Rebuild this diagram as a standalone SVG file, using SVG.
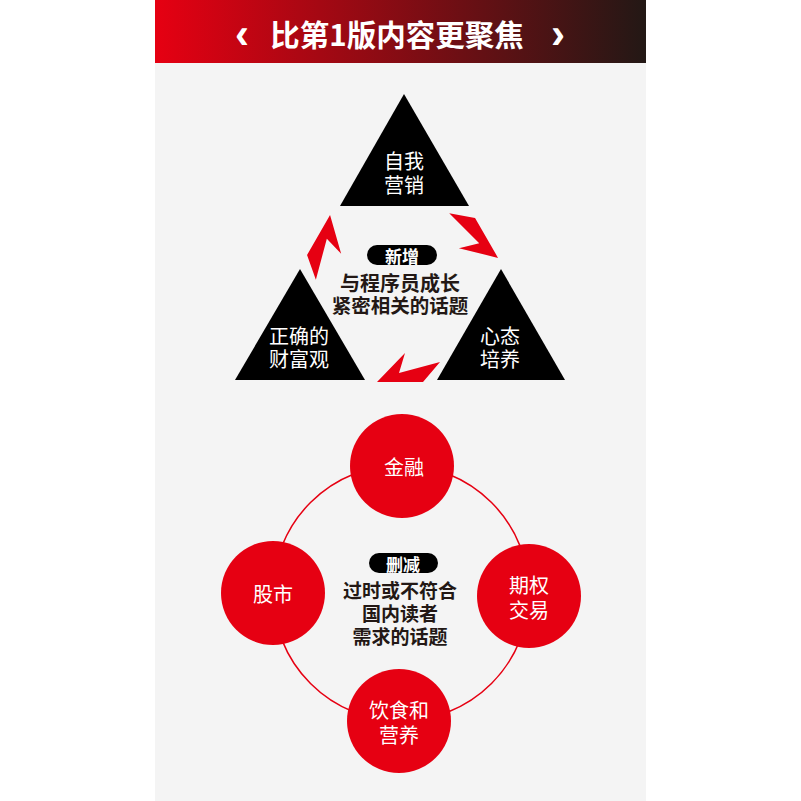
<svg xmlns="http://www.w3.org/2000/svg" width="801" height="801" viewBox="0 0 801 801">
<defs>
<linearGradient id="hdr" x1="155" y1="0" x2="646" y2="0" gradientUnits="userSpaceOnUse">
<stop offset="0" stop-color="#e60012"/>
<stop offset="1" stop-color="#231815"/>
</linearGradient>
<path id="bolt" d="M377,382 L405,353 L399,373 L440,362 L423,382 Z"/>
</defs>
<style>
.cjk{font-family:"Noto Sans CJK SC","Noto Sans",sans-serif;text-anchor:middle;dominant-baseline:central}
.w{fill:#ffffff}
.k{fill:#231815}
.b{font-weight:bold}
.tri{fill:#000000}
.red{fill:#e60012}
</style>
<rect x="0" y="0" width="801" height="801" fill="#ffffff"/>
<rect x="155" y="63" width="491" height="738" fill="#f4f4f4"/>
<g id="header">
<rect x="155" y="0" width="491" height="63" fill="url(#hdr)"/>
<text x="242" y="33" class="cjk w b" font-size="42" style="font-family:'Liberation Sans',sans-serif">‹</text>
<text x="397" y="33" class="cjk w b" font-size="29.5">比第1版内容更聚焦</text>
<text x="558" y="33" class="cjk w b" font-size="42" style="font-family:'Liberation Sans',sans-serif">›</text>
</g>
<g id="connectors">
<use href="#bolt" class="red"/>
<use href="#bolt" class="red" transform="rotate(120 401.7 285)"/>
<use href="#bolt" class="red" transform="rotate(240 401.7 285)"/>
<circle cx="401" cy="593" r="128" fill="none" stroke="#e60012" stroke-width="1.5"/>
</g>
<g id="tri-top">
<polygon class="tri" points="404,94 340,206 469,206"/>
<text class="cjk w" font-size="20"><tspan x="404" y="160">自我</tspan><tspan x="404" y="184">营销</tspan></text>
</g>
<g id="tri-left">
<polygon class="tri" points="300,269 235,380 365,380"/>
<text class="cjk w" font-size="20"><tspan x="299" y="335">正确的</tspan><tspan x="299" y="358">财富观</tspan></text>
</g>
<g id="tri-right">
<polygon class="tri" points="501,269 437,380 565,380"/>
<text class="cjk w" font-size="20"><tspan x="500" y="335">心态</tspan><tspan x="500" y="358">培养</tspan></text>
</g>
<g id="center-top">
<rect x="367" y="245" width="70" height="20" rx="10" fill="#000000"/>
<text x="402" y="255" class="cjk w b" font-size="17">新增</text>
<text class="cjk k b" font-size="20"><tspan x="400" y="282">与程序员成长</tspan><tspan x="400" y="304" font-size="19.5">紧密相关的话题</tspan></text>
</g>
<g id="c-jinrong">
<circle cx="402" cy="466" r="52" class="red"/>
<text x="404" y="466" class="cjk w" font-size="20">金融</text>
</g>
<g id="c-gushi">
<circle cx="273" cy="593" r="52" class="red"/>
<text x="273" y="593" class="cjk w" font-size="20">股市</text>
</g>
<g id="c-qiquan">
<circle cx="529" cy="596" r="52" class="red"/>
<text class="cjk w" font-size="20"><tspan x="529" y="584">期权</tspan><tspan x="529" y="609">交易</tspan></text>
</g>
<g id="c-yinshi">
<circle cx="399" cy="721" r="52" class="red"/>
<text class="cjk w" font-size="20"><tspan x="399" y="709">饮食和</tspan><tspan x="399" y="734">营养</tspan></text>
</g>
<g id="center-bottom">
<rect x="369" y="553" width="69" height="20" rx="10" fill="#000000"/>
<text x="403" y="563" class="cjk w b" font-size="17">删减</text>
<text class="cjk k b" font-size="19"><tspan x="400" y="589">过时或不符合</tspan><tspan x="400" y="612">国内读者</tspan><tspan x="400" y="635">需求的话题</tspan></text>
</g>
</svg>
